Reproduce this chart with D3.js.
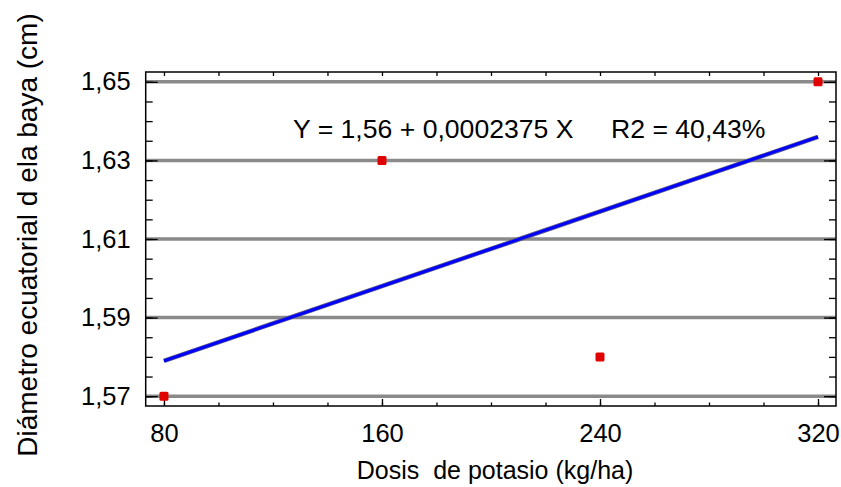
<!DOCTYPE html>
<html>
<head>
<meta charset="utf-8">
<script src="https://cdn.jsdelivr.net/npm/d3@7"></script>
<style>
	body { margin: 0; background: #fff; }
	text { font-family: "Liberation Sans", Arial, sans-serif; fill: #000; }
</style>
</head>
<body>
<svg class="mainsvg" width="841" height="487"></svg>
<script>
// data
var dosis = [80, 160, 240, 320];
var diametro = [1.57, 1.63, 1.58, 1.65];
var xTicks = [80, 160, 240, 320];
var yTicks = [1.57, 1.59, 1.61, 1.63, 1.65];
var intercept = 1.56;
var slope = 0.0002375;
var ecuacion = 'Y = 1,56 + 0,0002375 X';
var r2Text = 'R2 = 40,43%';

var _width = 841, _height = 487;
var margin = {left: 145.7, right: 841 - 836, top: 72, bottom: 487 - 406};
var innerW = _width - margin.left - margin.right;
var innerH = _height - margin.top - margin.bottom;

var svg = d3.select('.mainsvg');
var g = svg.append('g').attr('transform', 'translate(' + margin.left + ',' + margin.top + ')');

var x = d3.scaleLinear().domain([73.3, 326.6]).range([0, innerW]);
var y = d3.scaleLinear().domain([1.5675, 1.6525]).range([innerH, 0]);

var coma = function (d) { return d3.format('.2f')(d).replace('.', ','); };

// gridlines
g.selectAll('.grid')
	.data(yTicks)
	.enter().append('line')
	.attr('x1', 0).attr('x2', innerW)
	.attr('y1', d => y(d)).attr('y2', d => y(d))
	.attr('stroke', '#8a8a8a')
	.attr('stroke-width', 3.5)

// minor ticks
var yMinor = d3.range(1.57, 1.6501, 0.005).filter(d => y(d) >= 0 && y(d) <= innerH);
var xMinor = d3.range(80, 321, 20);

g.append('g')
	.call(d3.axisLeft(y).tickValues(yMinor).tickSize(-7).tickFormat(''))
	.call(a => a.select('.domain').remove());
g.append('g')
	.attr('transform', 'translate(' + innerW + ',0)')
	.call(d3.axisRight(y).tickValues(yMinor).tickSize(-7).tickFormat(''))
	.call(a => a.select('.domain').remove());

// major y ticks with labels
g.append('g')
	.call(d3.axisLeft(y).tickValues(yTicks).tickSize(-12).tickPadding(15).tickFormat(coma))
	.call(a => a.select('.domain').remove())
	.call(a => a.selectAll('text').attr('font-size', '25.5px').attr('font-family', '"Liberation Sans", Arial, sans-serif'));
g.append('g')
	.attr('transform', 'translate(' + innerW + ',0)')
	.call(d3.axisRight(y).tickValues(yTicks).tickSize(-12).tickFormat(''))
	.call(a => a.select('.domain').remove());

// x ticks
g.append('g')
	.attr('transform', 'translate(0,' + innerH + ')')
	.call(d3.axisBottom(x).tickValues(xMinor).tickSize(-3.5).tickFormat(''))
	.call(a => a.select('.domain').remove());
g.append('g')
	.attr('transform', 'translate(0,' + innerH + ')')
	.call(d3.axisBottom(x).tickValues(xTicks).tickSize(-7).tickPadding(18).tickFormat(d3.format('d')))
	.call(a => a.select('.domain').remove())
	.call(a => a.selectAll('text').attr('font-size', '25.5px').attr('font-family', '"Liberation Sans", Arial, sans-serif'));
g.append('g')
	.call(d3.axisTop(x).tickValues(xMinor).tickSize(-4).tickFormat(''))
	.call(a => a.select('.domain').remove());

g.selectAll('.tick line').attr('stroke', '#000').attr('stroke-width', 1.3);

// frame
g.append('rect')
	.attr('x', 0).attr('y', 0)
	.attr('width', innerW).attr('height', innerH)
	.attr('fill', 'none')
	.attr('stroke', '#000')
	.attr('stroke-width', 1.5)

// regression line
var fit = d3.line().x(d => x(d)).y(d => y(intercept + slope * d));
var xs = [d3.min(dosis), d3.max(dosis)];
g.append('path')
	.attr('d', fit(xs))
	.attr('stroke', '#5a5a8a')
	.attr('stroke-width', 4.5)
	.attr('fill', 'none')
g.append('path')
	.attr('d', fit(xs))
	.attr('stroke', '#0000ff')
	.attr('stroke-width', 3)
	.attr('fill', 'none')

// points
g.selectAll('.pt')
	.data(dosis)
	.enter().append('rect')
	.attr('x', d => x(d) - 4.5)
	.attr('y', (d, i) => y(diametro[i]) - 4.5)
	.attr('width', 9).attr('height', 9)
	.attr('rx', 1.5)
	.attr('fill', '#e00000')

// equation
g.append('text')
	.attr('x', 293 - margin.left)
	.attr('y', 138 - margin.top)
	.attr('font-size', '26.6px')
	.text(ecuacion)
g.append('text')
	.attr('x', 611 - margin.left)
	.attr('y', 138 - margin.top)
	.attr('font-size', '26.6px')
	.text(r2Text)

// axis titles
svg.append('text')
	.attr('x', 495)
	.attr('y', 479)
	.attr('font-size', '25px')
	.style('text-anchor', 'middle')
	.style('white-space', 'pre')
	.attr('xml:space', 'preserve')
	.text('Dosis  de potasio (kg/ha)')
svg.append('text')
	.attr('transform', 'translate(37,235) rotate(-90)')
	.attr('font-size', '28px')
	.style('text-anchor', 'middle')
	.text('Diámetro ecuatorial d ela baya (cm)')
</script>
</body>
</html>
